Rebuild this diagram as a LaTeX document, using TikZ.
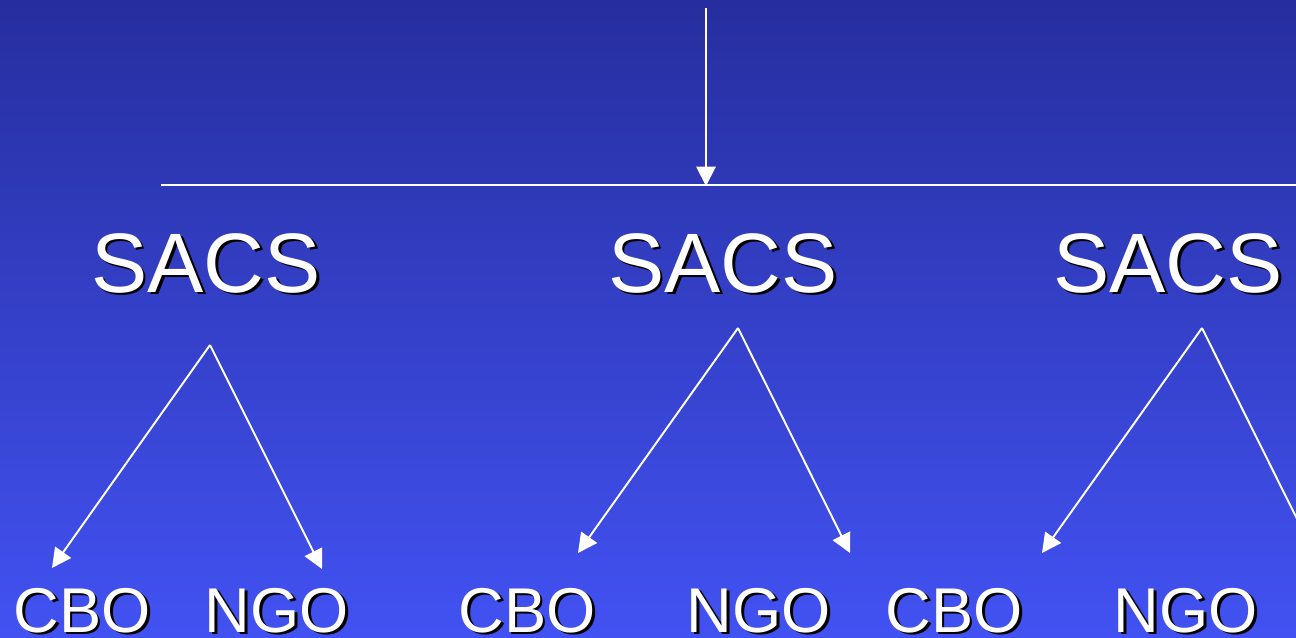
\documentclass[tikz,border=0pt]{standalone}
\usepackage{fontspec}
\setmainfont{Liberation Sans}
\usetikzlibrary{arrows.meta}

\definecolor{slidetop}{RGB}{38,46,158}
\definecolor{slidebottom}{RGB}{66,82,242}
\newcommand{\shadowed}[1]{\rlap{\kern0.055cm\raisebox{-0.055cm}{\color{black}#1}}#1}
\tikzset{
	level/.style={text=white, anchor=base, inner sep=0pt, font=\fontsize{48}{52}\selectfont},
	leaf/.style={text=white, anchor=base, inner sep=0pt, font=\fontsize{36}{40}\selectfont},
}

\begin{document}
\begin{tikzpicture}[x=0.02cm, y=-0.02cm, white, line width=1.1pt, arrows={-Triangle[width=11pt,length=11pt]}]
	\useasboundingbox (0,0) rectangle (1296,637);
	\fill[-, top color=slidetop, bottom color=slidebottom] (0,0) rectangle (1296,637);
	\clip (0,0) rectangle (1296,637);

	\coordinate (top) at (706,8);
	\coordinate (bar) at (706,186);
	\coordinate (barL) at (161,185);
	\coordinate (barR) at (1296,185);

	\node[level] (S1) at (206,292) {\shadowed{SACS}};
	\node[level] (S2) at (723,292) {\shadowed{SACS}};
	\node[level] (S3) at (1168,292) {\shadowed{SACS}};

	\coordinate (A1) at (210,345);
	\coordinate (A2) at (738,328);
	\coordinate (A3) at (1202,328);

	\coordinate (C1) at (52,568);
	\coordinate (N1) at (322,569);
	\coordinate (C2) at (578,553);
	\coordinate (N2) at (850,553);
	\coordinate (C3) at (1042,553);
	\coordinate (N3) at (1314,553);

	\node[leaf] (CBO1) at (82,632) {\shadowed{CBO}};
	\node[leaf] (NGO1) at (277,632) {\shadowed{NGO}};
	\node[leaf] (CBO2) at (527,632) {\shadowed{CBO}};
	\node[leaf] (NGO2) at (759,632) {\shadowed{NGO}};
	\node[leaf] (CBO3) at (954,632) {\shadowed{CBO}};
	\node[leaf] (NGO3) at (1186,632) {\shadowed{NGO}};

	\draw (top) to (bar);
	\draw[-] (barL) to (barR);

	\draw (A1) to (C1);
	\draw (A1) to (N1);
	\draw (A2) to (C2);
	\draw (A2) to (N2);
	\draw (A3) to (C3);
	\draw (A3) to (N3);
\end{tikzpicture}
\end{document}
